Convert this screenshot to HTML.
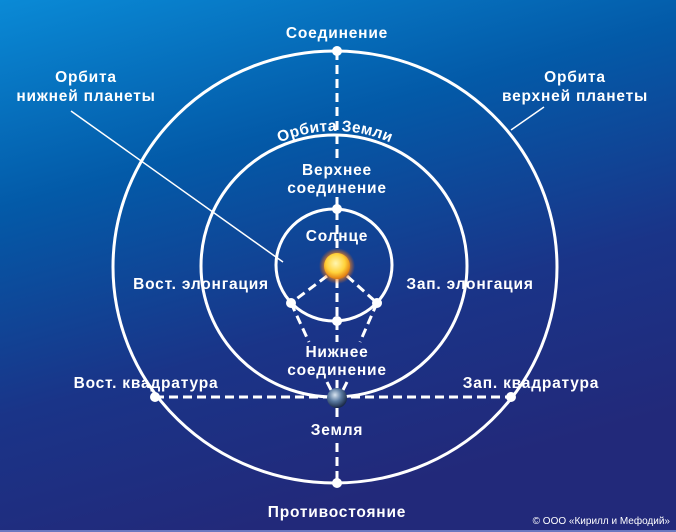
<!DOCTYPE html>
<html><head><meta charset="utf-8"><style>
html,body{margin:0;padding:0;}
body{width:676px;height:532px;overflow:hidden;}
svg{display:block;}
text{font-family:"Liberation Sans",sans-serif;font-weight:bold;fill:#fff;font-size:15.5px;letter-spacing:0.8px;}
</style></head><body>
<svg width="676" height="532" viewBox="0 0 676 532" xmlns="http://www.w3.org/2000/svg">
<defs>
<linearGradient id="bg" x1="0" y1="0" x2="0.35" y2="1">
<stop offset="0" stop-color="#0a8ad6"/>
<stop offset="0.35" stop-color="#035aa8"/>
<stop offset="0.7" stop-color="#1a3488"/>
<stop offset="1" stop-color="#22297a"/>
</linearGradient>
<radialGradient id="sun" cx="0.45" cy="0.4" r="0.6">
<stop offset="0" stop-color="#fff6b0"/>
<stop offset="0.6" stop-color="#ffd23a"/>
<stop offset="1" stop-color="#e07a10"/>
</radialGradient>
<radialGradient id="glow" cx="0.5" cy="0.5" r="0.5">
<stop offset="0.6" stop-color="#ff9a20" stop-opacity="0.9"/>
<stop offset="1" stop-color="#ff6a00" stop-opacity="0"/>
</radialGradient>
<radialGradient id="earth" cx="0.4" cy="0.35" r="0.65">
<stop offset="0" stop-color="#d8e4f0"/>
<stop offset="0.5" stop-color="#5a7aa0"/>
<stop offset="1" stop-color="#1a2a48"/>
</radialGradient>
<path id="arc" d="M 256 156 A 137 137 0 0 1 414 156"/>
</defs>
<rect width="676" height="532" fill="url(#bg)"/>
<rect y="530" width="676" height="2" fill="#6a78c0"/>
<g fill="none" stroke="#fff" stroke-width="3">
<ellipse cx="335" cy="267" rx="222" ry="216"/>
<ellipse cx="334" cy="266" rx="133" ry="131"/>
<ellipse cx="334" cy="265" rx="58" ry="56"/>
</g>
<g stroke="#fff" stroke-width="1.5">
<line x1="71" y1="111" x2="283" y2="262"/>
<line x1="544" y1="107" x2="511" y2="130"/>
</g>
<g stroke="#fff" stroke-width="3" stroke-dasharray="9,5" fill="none">
<line x1="337" y1="51" x2="337" y2="160"/>
<line x1="337" y1="197" x2="337" y2="255"/>
<line x1="337" y1="279" x2="337" y2="342"/>
<line x1="337" y1="380" x2="337" y2="388"/>
<line x1="337" y1="408" x2="337" y2="418"/>
<line x1="337" y1="443" x2="337" y2="483"/>
<line x1="155" y1="397" x2="511" y2="397"/>
<line x1="327" y1="276" x2="291" y2="303"/>
<line x1="347" y1="276" x2="377" y2="303"/>
<line x1="291" y1="303" x2="309" y2="342"/>
<line x1="377" y1="303" x2="360" y2="342"/>
<line x1="327" y1="382" x2="331" y2="390" stroke-dasharray="none"/>
<line x1="347" y1="382" x2="343" y2="390" stroke-dasharray="none"/>
</g>
<g fill="#fff">
<circle cx="337" cy="51" r="5"/>
<circle cx="337" cy="209" r="5"/>
<circle cx="291" cy="303" r="5"/>
<circle cx="377" cy="303" r="5"/>
<circle cx="337" cy="321" r="5"/>
<circle cx="155" cy="397" r="5"/>
<circle cx="511" cy="397" r="5"/>
<circle cx="337" cy="483" r="5"/>
</g>
<circle cx="337" cy="266" r="18" fill="url(#glow)"/>
<circle cx="337" cy="266" r="13" fill="url(#sun)"/>
<circle cx="337" cy="398" r="10" fill="url(#earth)"/>
<text x="337" y="38" text-anchor="middle">Соединение</text>
<text x="86" y="82" text-anchor="middle">Орбита</text>
<text x="86" y="101" text-anchor="middle">нижней планеты</text>
<text x="575" y="82" text-anchor="middle">Орбита</text>
<text x="575" y="101" text-anchor="middle">верхней планеты</text>
<text style="letter-spacing:0.3px"><textPath href="#arc" startOffset="50%" text-anchor="middle">Орбита Земли</textPath></text>
<text x="337" y="175" text-anchor="middle">Верхнее</text>
<text x="337" y="193" text-anchor="middle">соединение</text>
<text x="337" y="241" text-anchor="middle">Солнце</text>
<text x="201" y="289" text-anchor="middle">Вост. элонгация</text>
<text x="470" y="289" text-anchor="middle">Зап. элонгация</text>
<text x="337" y="357" text-anchor="middle">Нижнее</text>
<text x="337" y="375" text-anchor="middle">соединение</text>
<text x="146" y="388" text-anchor="middle">Вост. квадратура</text>
<text x="531" y="388" text-anchor="middle">Зап. квадратура</text>
<text x="337" y="435" text-anchor="middle">Земля</text>
<text x="337" y="517" text-anchor="middle">Противостояние</text>
<text x="670" y="524" text-anchor="end" style="font-weight:normal;font-size:10px;letter-spacing:0">© ООО «Кирилл и Мефодий»</text>
</svg>
</body></html>
